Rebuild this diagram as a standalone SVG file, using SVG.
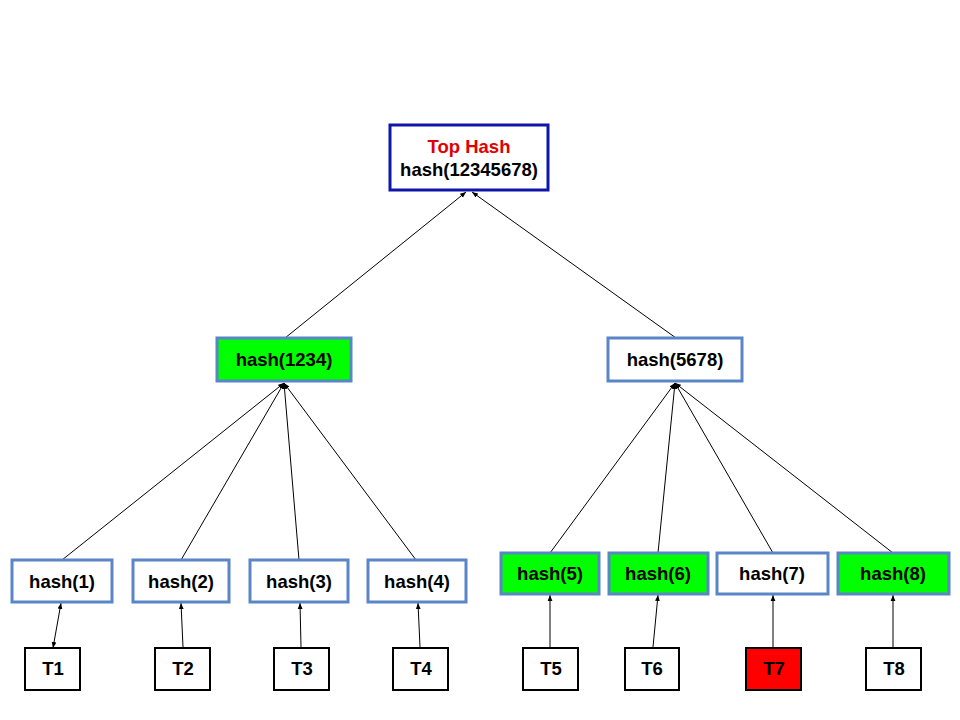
<svg xmlns="http://www.w3.org/2000/svg" width="960" height="720" viewBox="0 0 960 720">
<style>
.n{stroke:#5a86c8;stroke-width:3;fill:#ffffff}
.g{fill:#00ff00}
.t{stroke:#000000;stroke-width:2;fill:#ffffff}
.r{fill:#ff0000}
text{font-family:"Liberation Sans",Arial,sans-serif;font-weight:bold;font-size:18.5px;text-anchor:middle;fill:#000000}
.c line{stroke:#000000;stroke-width:1}
</style>
<defs>
<marker id="ah" viewBox="0 0 10 10" refX="10" refY="5" markerWidth="6" markerHeight="6" orient="auto" markerUnits="userSpaceOnUse">
<path d="M0,1 L10,5 L0,9 Z" fill="#000000"/>
</marker>
<marker id="as" viewBox="0 0 10 10" refX="0" refY="5" markerWidth="6" markerHeight="6" orient="auto" markerUnits="userSpaceOnUse">
<path d="M10,1 L0,5 L10,9 Z" fill="#000000"/>
</marker>
</defs>
<rect width="960" height="720" fill="#ffffff"/>
<g id="connectors" class="c">
<line x1="285" y1="338" x2="466" y2="192" marker-end="url(#ah)"/>
<line x1="676" y1="338" x2="472" y2="192" marker-end="url(#ah)"/>
<line x1="62" y1="560" x2="284" y2="383" marker-end="url(#ah)"/>
<line x1="181" y1="560" x2="284" y2="383" marker-end="url(#ah)"/>
<line x1="299" y1="560" x2="284" y2="383" marker-end="url(#ah)"/>
<line x1="416" y1="560" x2="284" y2="383" marker-end="url(#ah)"/>
<line x1="550" y1="553" x2="675" y2="383" marker-end="url(#ah)"/>
<line x1="658" y1="553" x2="675" y2="383" marker-end="url(#ah)"/>
<line x1="773" y1="553" x2="675" y2="383" marker-end="url(#ah)"/>
<line x1="893" y1="553" x2="675" y2="383" marker-end="url(#ah)"/>
<line x1="53" y1="648" x2="61" y2="603" marker-start="url(#as)" marker-end="url(#ah)"/>
<line x1="183" y1="647" x2="181" y2="603" marker-end="url(#ah)"/>
<line x1="301" y1="647" x2="300" y2="603" marker-end="url(#ah)"/>
<line x1="420" y1="647" x2="418" y2="603" marker-end="url(#ah)"/>
<line x1="550" y1="647" x2="550" y2="595" marker-end="url(#ah)"/>
<line x1="653" y1="647" x2="658" y2="595" marker-end="url(#ah)"/>
<line x1="773" y1="647" x2="773" y2="595" marker-end="url(#ah)"/>
<line x1="893" y1="647" x2="893" y2="595" marker-end="url(#ah)"/>
</g>
<g id="top">
<rect x="390" y="125" width="158" height="65" fill="#ffffff" stroke="#0f14aa" stroke-width="3"/>
<text x="469" y="153" style="fill:#e00000">Top Hash</text>
<text x="469" y="176">hash(12345678)</text>
</g>
<g id="h1234"><rect class="n g" x="217" y="338" width="134" height="43"/><text x="284" y="366">hash(1234)</text></g>
<g id="h5678"><rect class="n" x="608" y="338" width="134" height="43"/><text x="675" y="366">hash(5678)</text></g>
<g id="h1"><rect class="n" x="12" y="560" width="100" height="42"/><text x="62" y="588">hash(1)</text></g>
<g id="h2"><rect class="n" x="133" y="560" width="96" height="42"/><text x="181" y="588">hash(2)</text></g>
<g id="h3"><rect class="n" x="250" y="560" width="98" height="42"/><text x="299" y="588">hash(3)</text></g>
<g id="h4"><rect class="n" x="368" y="560" width="98" height="42"/><text x="417" y="588">hash(4)</text></g>
<g id="h5"><rect class="n g" x="501" y="553" width="98" height="41"/><text x="550" y="580">hash(5)</text></g>
<g id="h6"><rect class="n g" x="609" y="553" width="99" height="41"/><text x="658" y="580">hash(6)</text></g>
<g id="h7"><rect class="n" x="717" y="553" width="111" height="41"/><text x="772" y="580">hash(7)</text></g>
<g id="h8"><rect class="n g" x="838" y="553" width="111" height="41"/><text x="893" y="580">hash(8)</text></g>
<g id="t1"><rect class="t" x="25" y="648" width="55" height="42"/><text x="53" y="675">T1</text></g>
<g id="t2"><rect class="t" x="155" y="648" width="55" height="42"/><text x="183" y="675">T2</text></g>
<g id="t3"><rect class="t" x="274" y="648" width="55" height="42"/><text x="302" y="675">T3</text></g>
<g id="t4"><rect class="t" x="393" y="648" width="55" height="42"/><text x="421" y="675">T4</text></g>
<g id="t5"><rect class="t" x="523" y="648" width="55" height="42"/><text x="551" y="675">T5</text></g>
<g id="t6"><rect class="t" x="625" y="648" width="54" height="42"/><text x="652" y="675">T6</text></g>
<g id="t7"><rect class="t r" x="746" y="648" width="55" height="42"/><text x="774" y="675">T7</text></g>
<g id="t8"><rect class="t" x="866" y="648" width="55" height="42"/><text x="894" y="675">T8</text></g>
</svg>
